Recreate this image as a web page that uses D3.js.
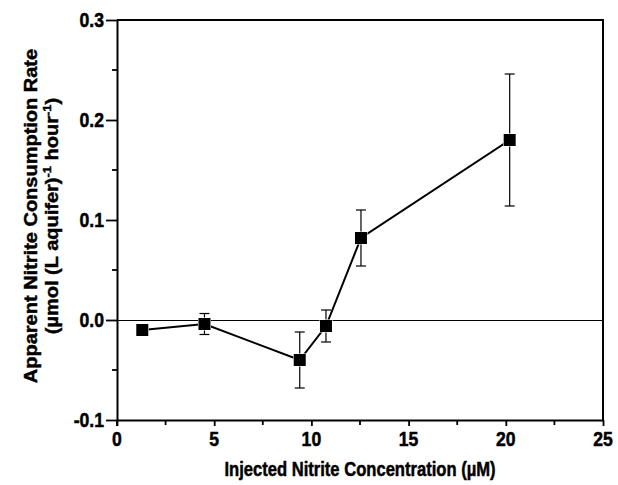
<!DOCTYPE html>
<html>
<head>
<meta charset="utf-8">
<script src="https://cdn.jsdelivr.net/npm/d3@7"></script>
<style>
  html, body { margin: 0; padding: 0; background: #fff; }
  svg { display: block; font-family: "Liberation Sans", Arial, sans-serif; }
</style>
</head>
<body>
<svg id="chart" width="618" height="485"></svg>
<script>
// Injected nitrite concentration (µM)
const concentration = [1.3, 4.5, 9.4, 10.75, 12.55, 20.2];
// Apparent nitrite consumption rate (µmol (L aquifer)^-1 hour^-1)
const rate = [-0.010, -0.004, -0.040, -0.006, 0.082, 0.180];
// Error (± one standard deviation)
const rateError = [0.003, 0.0105, 0.028, 0.016, 0.028, 0.066];

const xTicks = [0, 5, 10, 15, 20, 25];
const yTicks = [-0.1, 0.0, 0.1, 0.2, 0.3];
const xMinorTicks = [2.5, 7.5, 12.5, 17.5, 22.5];
const yMinorTicks = [-0.05, 0.05, 0.15, 0.25];

const svg = d3.select("#chart");
const plot = { left: 117, right: 603, top: 20, bottom: 420 };
const FONT = 20;      // label font size
const SQUEEZE = 0.88; // horizontal glyph compression

const x = d3.scaleLinear().domain([0, 25]).range([plot.left, plot.right]);
const y = d3.scaleLinear().domain([-0.1, 0.3]).range([plot.bottom, plot.top]);

// Frame (top and right)
svg.append("path")
  .attr("d", `M${plot.left},${plot.top}H${plot.right}V${plot.bottom}`)
  .attr("fill", "none").attr("stroke", "#000").attr("stroke-width", 2);

// Zero reference line
svg.append("line")
  .attr("x1", plot.left).attr("x2", plot.right)
  .attr("y1", y(0) + 0.5).attr("y2", y(0) + 0.5)
  .attr("stroke", "#000").attr("stroke-width", 1.3)
  .attr("shape-rendering", "crispEdges");

// Places a horizontally condensed heavy label
function label(parent, px, py, anchor, txt, squeeze = SQUEEZE) {
  return parent.append("text")
    .attr("transform", `translate(${px},${py}) scale(${squeeze},1)`)
    .attr("text-anchor", anchor)
    .attr("font-family", "'Liberation Sans', Arial, sans-serif")
    .attr("font-weight", "bold")
    .attr("font-size", FONT)
    .attr("fill", "#000")
    .attr("stroke", "#000").attr("stroke-width", 0.5)
    .text(txt);
}

const fmtY = v => d3.format(".1f")(v).replace("\u2212", "-");

// Bottom axis
const xAxisG = svg.append("g").attr("transform", `translate(0,${plot.bottom})`);
xAxisG.call(d3.axisBottom(x).tickValues(xTicks).tickFormat("")
  .tickSize(6).tickSizeOuter(0));
xAxisG.append("g").selectAll("line").data(xMinorTicks).join("line")
  .attr("x1", d => x(d)).attr("x2", d => x(d))
  .attr("y1", 0).attr("y2", 5)
  .attr("stroke", "#000").attr("stroke-width", 1.8);
xAxisG.select(".domain").attr("stroke-width", 2);
xAxisG.selectAll(".tick line").attr("stroke-width", 1.8);
xTicks.forEach(t => label(xAxisG, x(t), 26, "middle", d3.format("d")(t)));

// Left axis
const yAxisG = svg.append("g").attr("transform", `translate(${plot.left},0)`);
yAxisG.call(d3.axisLeft(y).tickValues(yTicks).tickFormat("")
  .tickSize(11).tickSizeOuter(0));
yAxisG.append("g").selectAll("line").data(yMinorTicks).join("line")
  .attr("x1", -5).attr("x2", 0)
  .attr("y1", d => y(d)).attr("y2", d => y(d))
  .attr("stroke", "#000").attr("stroke-width", 1.8);
yAxisG.select(".domain").attr("stroke-width", 2);
yAxisG.selectAll(".tick line").attr("stroke-width", 1.8);
yTicks.forEach(t => label(yAxisG, -13, y(t) + 7, "end", fmtY(t)));
// the left spine runs slightly past the bottom axis
yAxisG.append("line").attr("x1", 0).attr("x2", 0)
  .attr("y1", plot.bottom).attr("y2", plot.bottom + 6)
  .attr("stroke", "#000").attr("stroke-width", 2);

const data = concentration.map((c, i) => ({ c, r: rate[i], e: rateError[i] }));

// Error bars
const eb = svg.append("g").attr("stroke", "#000").attr("stroke-width", 1.2);
data.forEach(d => {
  eb.append("line").attr("x1", x(d.c)).attr("x2", x(d.c))
    .attr("y1", y(d.r - d.e)).attr("y2", y(d.r + d.e));
  [d.r - d.e, d.r + d.e].forEach(v => {
    eb.append("line").attr("x1", x(d.c) - 5).attr("x2", x(d.c) + 5)
      .attr("y1", y(v)).attr("y2", y(v));
  });
});

// Connecting line
svg.append("path").datum(data)
  .attr("fill", "none").attr("stroke", "#000").attr("stroke-width", 2)
  .attr("d", d3.line().x(d => x(d.c)).y(d => y(d.r)));

// Square markers
const ms = 12;
svg.append("g").selectAll("rect").data(data).join("rect")
  .attr("x", d => x(d.c) - ms / 2).attr("y", d => y(d.r) - ms / 2)
  .attr("width", ms).attr("height", ms).attr("fill", "#000")
  .attr("stroke", "#fff").attr("stroke-width", 1).attr("paint-order", "stroke");

// Axis titles
label(svg, (plot.left + plot.right) / 2, 476, "middle", "Injected Nitrite Concentration (µM)", 0.83);

const yTitle = svg.append("text")
  .attr("transform", `translate(37,${(plot.top + plot.bottom) / 2 - 4}) scale(${SQUEEZE},1) rotate(-90)`)
  .attr("text-anchor", "middle")
  .attr("font-weight", "bold").attr("font-size", FONT)
  .attr("stroke", "#000").attr("stroke-width", 0.5);
yTitle.append("tspan").attr("x", 0).attr("dy", 0)
  .text("Apparent Nitrite Consumption Rate");
const l2 = yTitle.append("tspan").attr("x", 0).attr("dy", 24);
l2.append("tspan").text("(µmol (L aquifer)");
l2.append("tspan").attr("font-size", 13).attr("dy", -8).text("-1");
l2.append("tspan").attr("dy", 8).text(" hour");
l2.append("tspan").attr("font-size", 13).attr("dy", -8).text("-1");
l2.append("tspan").attr("dy", 8).text(")");
</script>
</body>
</html>
